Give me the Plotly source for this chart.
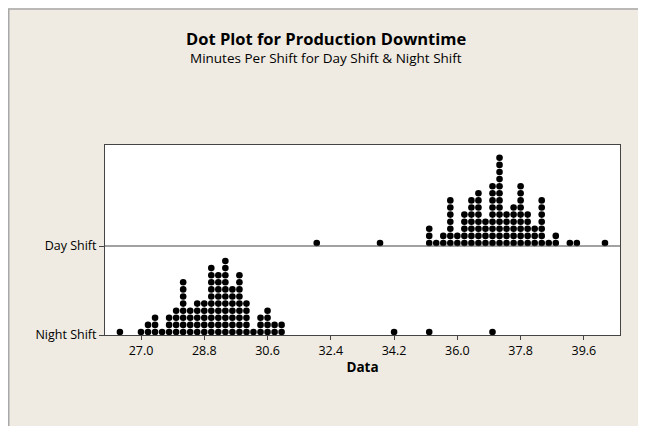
import plotly.graph_objects as go

# ---- data (bin centres and dot counts) ----
night_values = [26.4, 27.0, 27.2, 27.4, 27.6, 27.8, 28.0, 28.2, 28.4, 28.6, 28.8,
                29.0, 29.2, 29.4, 29.6, 29.8, 30.0, 30.2, 30.4, 30.6, 30.8, 31.0,
                34.2, 35.2, 37.0]
night_counts = [1, 1, 2, 3, 1, 3, 4, 8, 4, 5, 5,
                10, 9, 11, 7, 9, 5, 1, 3, 4, 2, 2,
                1, 1, 1]

day_values = [32.0, 33.8, 35.2, 35.4, 35.6, 35.8, 36.0, 36.2, 36.4, 36.6, 36.8,
              37.0, 37.2, 37.4, 37.6, 37.8, 38.0, 38.2, 38.4, 38.6, 38.8, 39.2,
              39.4, 40.2]
day_counts = [1, 1, 3, 1, 2, 7, 2, 5, 7, 8, 4,
              9, 13, 5, 6, 9, 5, 3, 7, 1, 2, 1,
              1, 1]

groups = ["Day Shift", "Night Shift"]
x_ticks = [27.0, 28.8, 30.6, 32.4, 34.2, 36.0, 37.8, 39.6]

# ---- layout constants (page px minus the 8px body margin) ----
OFF = 8
W, H = 646 - OFF, 434 - 2 * OFF
PX_L, PX_R, PX_T, PX_B = 105 - OFF, 620 - OFF, 145 - OFF, 335 - OFF
ROW = 7.1                      # vertical dot pitch in px
plot_w = PX_R - PX_L
plot_h = PX_B - PX_T
y_max = plot_h / ROW
night_base = 0.0
day_base = (335 - 246) / ROW
x_per_px = 1.0 / 35.15
x0 = 27.0 - (141 - 105) * x_per_px
x1 = x0 + plot_w * x_per_px


def stack(values, counts, base):
    xs, ys = [], []
    for v, c in zip(values, counts):
        for j in range(c):
            xs.append(v)
            ys.append(base + 0.42 + j)
    return xs, ys


fig = go.Figure()
for vals, cnts, base in [(day_values, day_counts, day_base),
                         (night_values, night_counts, night_base)]:
    xs, ys = stack(vals, cnts, base)
    fig.add_trace(go.Scatter(x=xs, y=ys, mode="markers",
                             marker=dict(color="black", size=6.6, line=dict(width=0)),
                             cliponaxis=False, showlegend=False, hoverinfo="x"))

font_family = "Open Sans, DejaVu Sans, sans-serif"


def px_x(p):
    return (p - OFF - PX_L) / plot_w


def px_y(p):
    return (PX_B - (p - OFF)) / plot_h


fig.update_layout(
    width=W, height=H,
    margin=dict(l=PX_L, r=W - PX_R, t=PX_T, b=H - PX_B, pad=0),
    paper_bgcolor="#EFEBE2",
    plot_bgcolor="white",
    font=dict(family=font_family, color="black", size=12),
    xaxis=dict(range=[x0, x1], tickvals=x_ticks,
               ticktext=[f"{t:.1f}" for t in x_ticks],
               ticks="outside", ticklen=4, tickcolor="#444",
               showgrid=False, zeroline=False,
               showline=True, linecolor="#444", linewidth=1, mirror=True,
               tickfont=dict(size=12.5), fixedrange=True,
               title=dict(text="<b>Data</b>", font=dict(size=13.5), standoff=4)),
    yaxis=dict(range=[0, y_max], tickvals=[day_base, night_base],
               ticktext=groups,
               ticks="outside", ticklen=5, tickcolor="#444",
               showgrid=False, zeroline=False,
               showline=True, linecolor="#444", linewidth=1, mirror=True,
               tickfont=dict(size=12.5), fixedrange=True),
    shapes=[
        dict(type="line", xref="paper", yref="y", x0=0, x1=1,
             y0=day_base, y1=day_base, line=dict(color="#444", width=1)),
        dict(type="line", xref="paper", yref="paper",
             x0=px_x(OFF + 0.75), x1=px_x(OFF + 0.75), y0=px_y(440), y1=px_y(OFF + 1),
             line=dict(color="#A8A8A8", width=1.5)),
        dict(type="line", xref="paper", yref="paper",
             x0=px_x(OFF), x1=px_x(660), y0=px_y(OFF + 1), y1=px_y(OFF + 1),
             line=dict(color="#A8A8A8", width=1.5)),
    ],
    annotations=[
        dict(text="<b>Dot Plot for Production Downtime</b>", xref="paper", yref="paper",
             x=px_x(326), y=px_y(38),
             xanchor="center", yanchor="middle", showarrow=False,
             font=dict(size=16.5, family=font_family)),
        dict(text="Minutes Per Shift for Day Shift &amp; Night Shift", xref="paper", yref="paper",
             x=px_x(326), y=px_y(58),
             xanchor="center", yanchor="middle", showarrow=False,
             font=dict(size=13.5, family=font_family)),
    ],
)

fig.write_html("out.html")
